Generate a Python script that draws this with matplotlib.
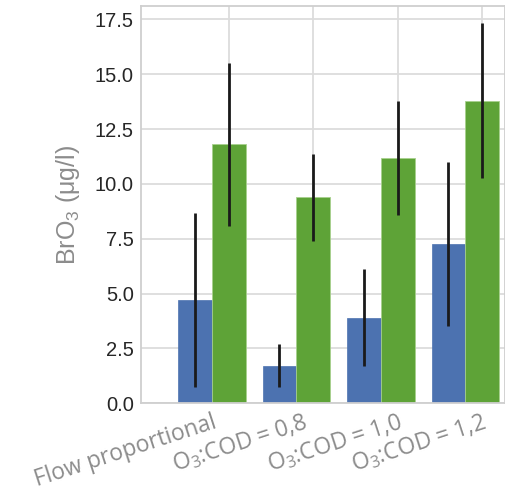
import numpy as np
import matplotlib
matplotlib.use("Agg")
from matplotlib import pyplot as plt
from matplotlib.transforms import ScaledTranslation

categories = ["Flow proportional", "O$_3$:COD = 0,8", "O$_3$:COD = 1,0", "O$_3$:COD = 1,2"]
blue_vals = [4.7, 1.7, 3.9, 7.25]
blue_err = [3.95, 0.98, 2.2, 3.73]
green_vals = [11.8, 9.38, 11.18, 13.8]
green_err = [3.7, 1.97, 2.6, 3.55]

plt.rcParams["mathtext.default"] = "regular"

fig = plt.figure(figsize=(5.05, 4.91), dpi=100)
ax = fig.add_axes([0.279, 0.179, 0.721, 0.809])

x = np.arange(len(categories))
w = 0.4
ax.bar(x - w, blue_vals, w, color="#4c72b0", edgecolor="#4c72b0", linewidth=0.5, zorder=2)
ax.bar(x, green_vals, w, color="#5ea337", edgecolor="#a8d08d", linewidth=0.6, zorder=2)
ax.errorbar(x - w, blue_vals, yerr=blue_err, fmt="none", ecolor="#1a1a1a", elinewidth=2, capsize=0, zorder=3)
ax.errorbar(x, green_vals, yerr=green_err, fmt="none", ecolor="#1a1a1a", elinewidth=2, capsize=0, zorder=3)

ax.set_xlim(-1.04, 3.27)
ax.set_ylim(0, 18.12)
ax.set_yticks(np.arange(0, 17.6, 2.5))
ax.set_yticklabels([f"{v:.1f}" for v in np.arange(0, 17.6, 2.5)],
                   fontsize=14.5, color="#262626", family="Liberation Sans")
ax.set_xticks(x)
ax.set_xticklabels(categories, rotation=18, ha="right", rotation_mode="anchor",
                   fontsize=16.5, color="#8c8c8c", family="Open Sans")
ax.tick_params(length=0)
ax.tick_params(axis="y", pad=5)
ax.tick_params(axis="x", pad=5)
# the first two labels sit a bit left of their ticks in the original
for lab, dx in zip(ax.get_xticklabels(), [-17, -10, 0, 0]):
    lab.set_transform(lab.get_transform() + ScaledTranslation(dx / 100, 0, fig.dpi_scale_trans))

ax.grid(True, color="#dcdcdc", linewidth=1.3, zorder=0)
ax.set_axisbelow(True)
for s in ax.spines.values():
    s.set_color("#cfcfcf")
    s.set_linewidth(1.3)

ax.set_ylabel("BrO$_3$ (μg/l)", fontsize=18, color="#8c8c8c", family="Liberation Sans", labelpad=9)

fig.savefig("out.png", dpi=100)
